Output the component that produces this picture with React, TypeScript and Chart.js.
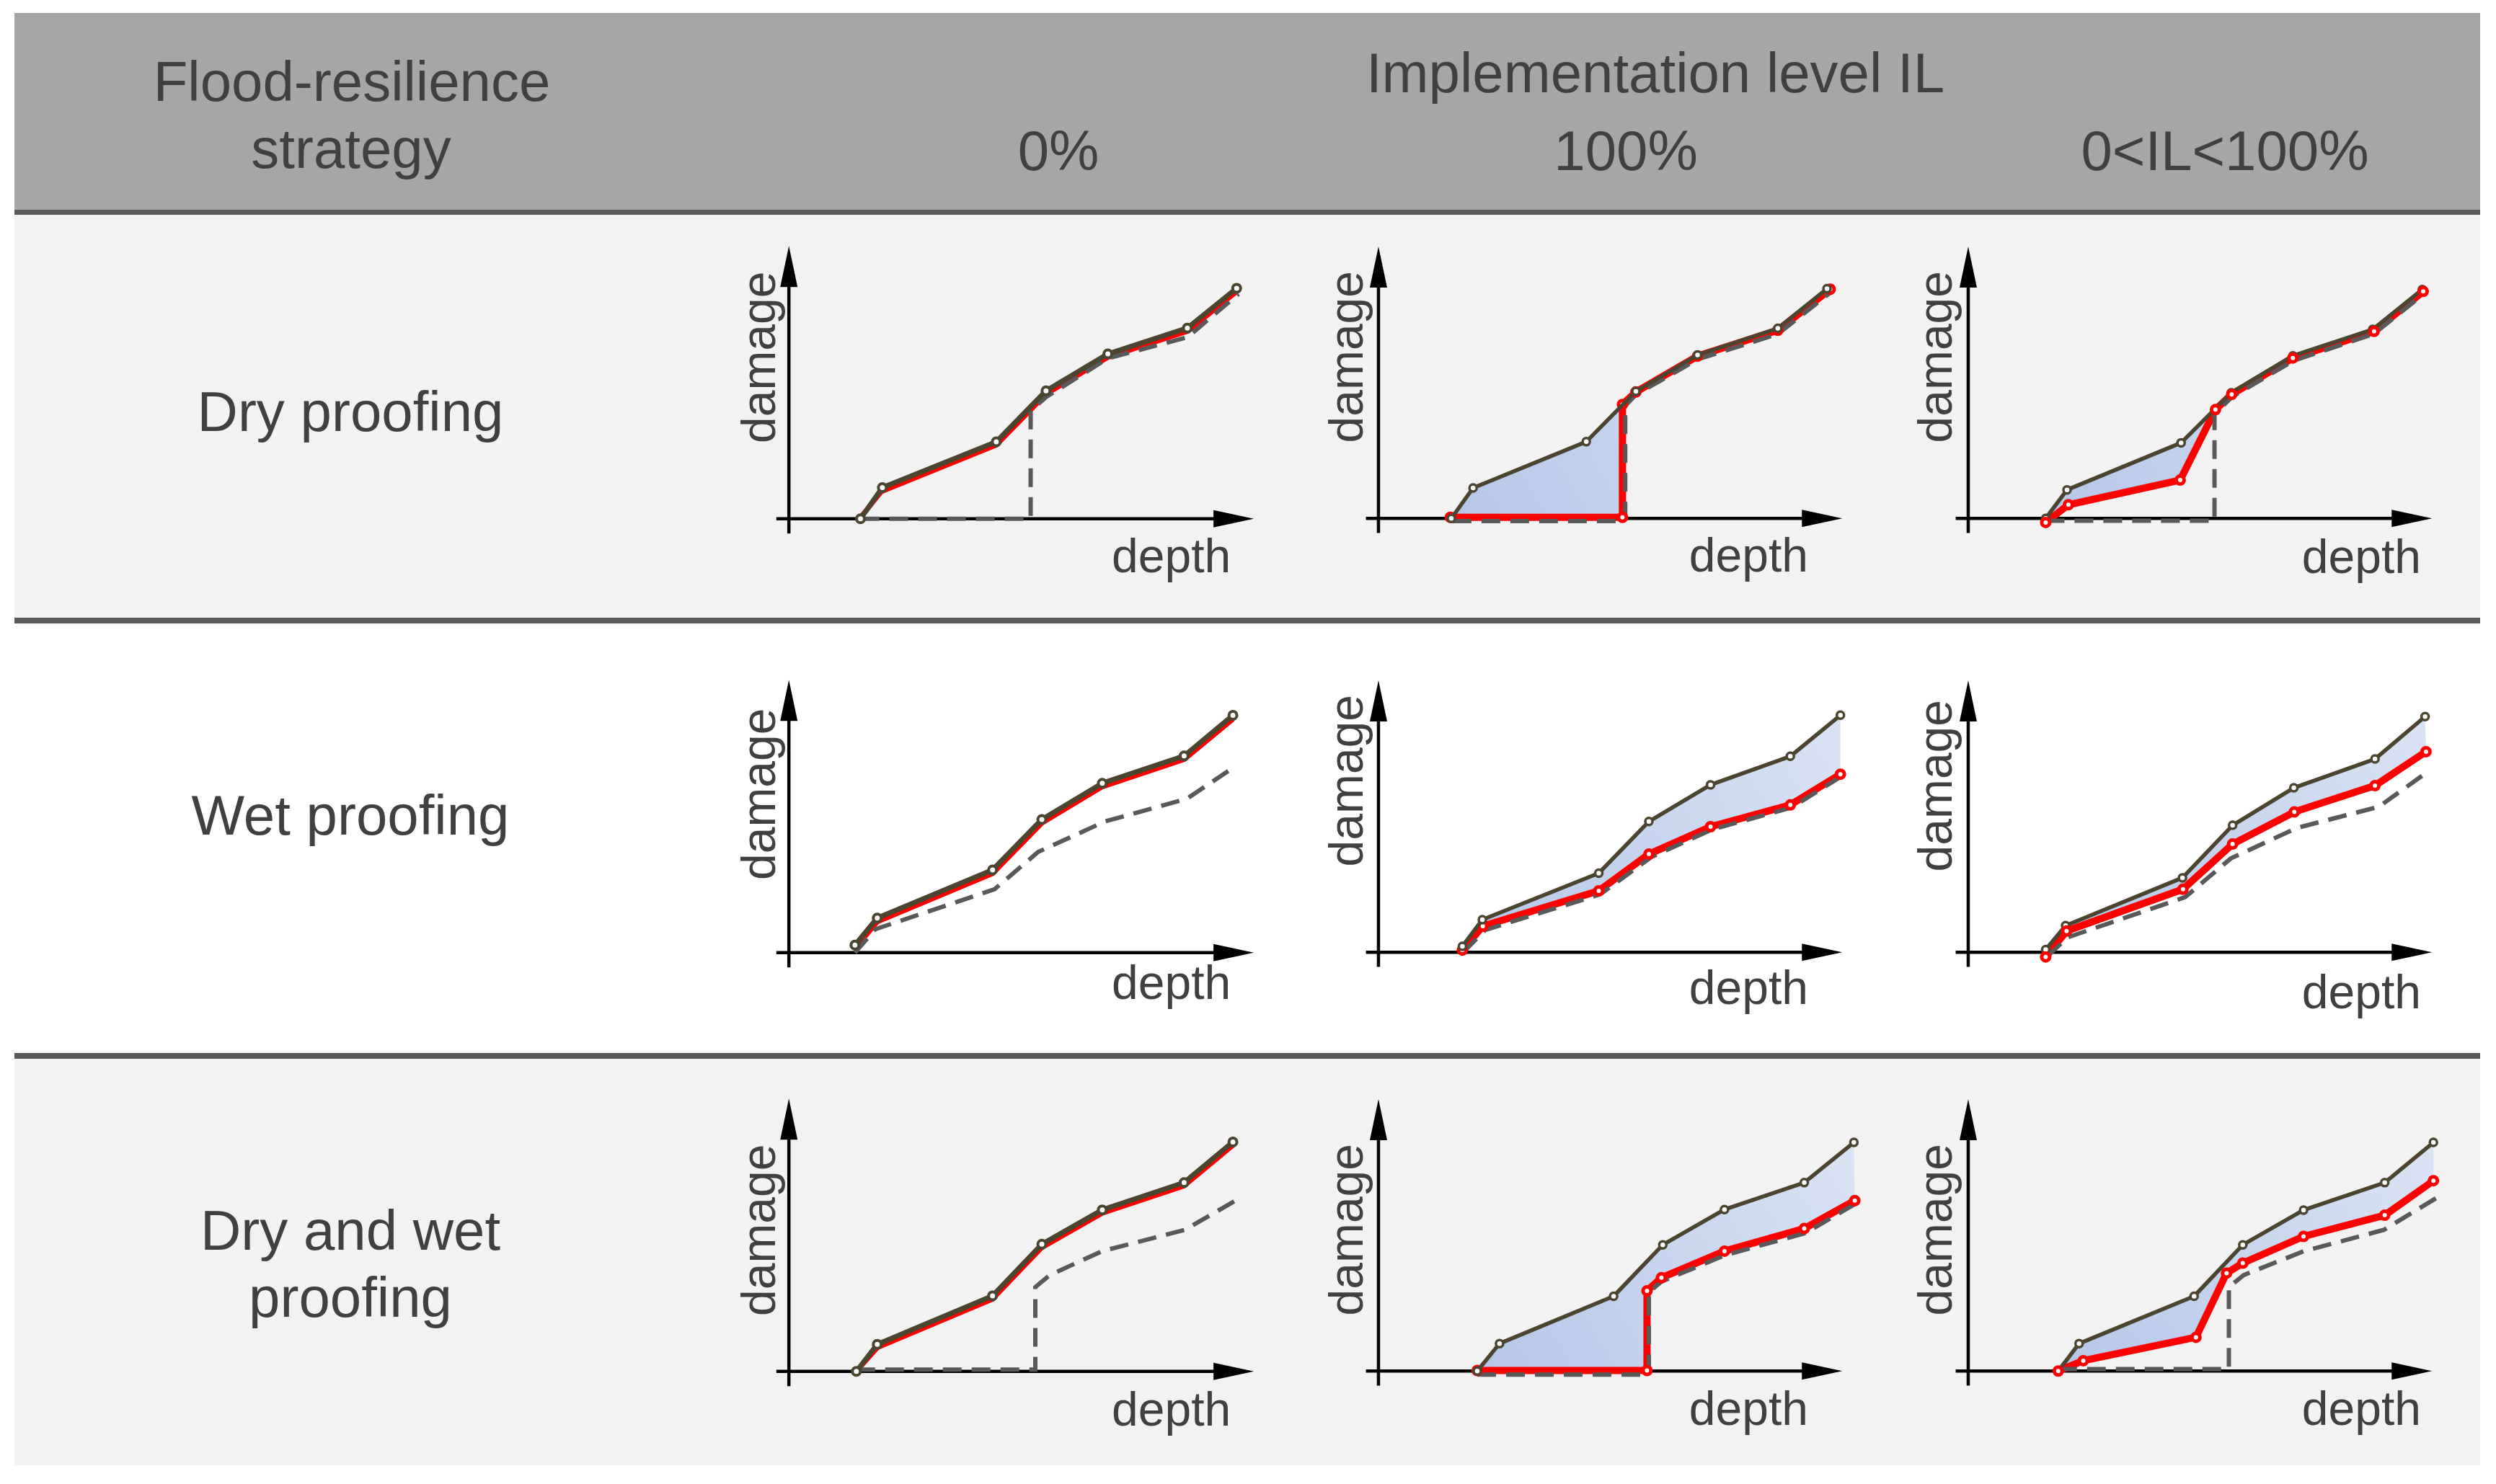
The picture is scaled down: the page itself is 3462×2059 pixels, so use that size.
import React, { useEffect, useRef } from 'react';
import { Chart, registerables } from 'chart.js';

Chart.register(...registerables);

type P = [number, number];

// ---------- DATA (depth, damage); axis arrow tips at 10 ----------
// Row 1: Dry proofing
const dry0Orig: P[] = [[1.54, 0], [2.01, 1.14], [4.46, 2.82], [5.53, 4.69], [6.86, 6.04], [8.57, 6.99], [9.63, 8.45]];
const dry0Full: P[] = [[1.54, 0], [5.2, 0], [5.2, 3.96], [5.53, 4.46], [6.86, 5.88], [8.57, 6.65], [9.67, 8.24]];
const dry0Result: P[] = [[1.52, 0], [1.99, 1.0], [4.46, 2.7], [5.53, 4.57], [6.86, 5.92], [8.57, 6.87], [9.63, 8.33]];

const dry100Orig: P[] = [[1.57, 0], [2.04, 1.12], [4.48, 2.82], [5.55, 4.67], [6.88, 6.01], [8.61, 6.99], [9.67, 8.45]];
const dry100Full: P[] = [[1.6, -0.1], [5.32, -0.1], [5.32, 4.14], [5.55, 4.55], [6.88, 5.85], [8.61, 6.78], [9.74, 8.3]];
const dry100Result: P[] = [[1.55, 0.04], [5.26, 0.04], [5.26, 4.19], [5.55, 4.65], [6.88, 5.97], [8.61, 6.92], [9.74, 8.43]];

const dryPartOrig: P[] = [[1.67, 0], [2.13, 1.05], [4.59, 2.78], [5.67, 4.62], [7.0, 5.98], [8.72, 6.95], [9.79, 8.42]];
const dryPartFull: P[] = [[1.67, -0.09], [5.31, -0.09], [5.31, 3.83], [5.68, 4.46], [7.0, 5.79], [8.75, 6.79], [9.81, 8.24]];
const dryPartResult: P[] = [[1.67, -0.15], [2.16, 0.5], [4.57, 1.41], [5.33, 4.0], [5.68, 4.56], [7.0, 5.9], [8.75, 6.88], [9.81, 8.35]];

// Row 2: Wet proofing
const wet0Orig: P[] = [[1.42, 0.28], [1.9, 1.27], [4.38, 3.03], [5.44, 4.88], [6.74, 6.21], [8.5, 7.21], [9.55, 8.7]];
const wet0Full: P[] = [[1.42, 0], [1.86, 0.86], [4.42, 2.32], [5.36, 3.69], [6.8, 4.81], [8.56, 5.64], [9.55, 6.77]];
const wet0Result: P[] = [[1.42, 0.15], [1.9, 1.13], [4.38, 2.9], [5.44, 4.75], [6.74, 6.08], [8.5, 7.08], [9.55, 8.56]];

const wet100Orig: P[] = [[1.81, 0.22], [2.24, 1.2], [4.75, 2.91], [5.83, 4.81], [7.16, 6.16], [8.88, 7.21], [9.96, 8.72]];
const wet100Full: P[] = [[1.83, 0], [2.3, 0.82], [4.78, 2.13], [5.88, 3.5], [7.2, 4.52], [8.9, 5.32], [9.98, 6.47]];
const wet100Result: P[] = [[1.81, 0.08], [2.25, 0.96], [4.75, 2.26], [5.83, 3.61], [7.16, 4.62], [8.88, 5.42], [9.96, 6.55]];

const wetPartOrig: P[] = [[1.67, 0.1], [2.1, 0.98], [4.62, 2.74], [5.7, 4.67], [7.02, 6.05], [8.77, 7.11], [9.85, 8.67]];
const wetPartFull: P[] = [[1.7, -0.15], [2.15, 0.55], [4.68, 2.03], [5.66, 3.45], [7.08, 4.57], [8.85, 5.35], [9.85, 6.57]];
const wetPartResult: P[] = [[1.67, -0.17], [2.12, 0.78], [4.63, 2.32], [5.7, 3.98], [7.03, 5.16], [8.77, 6.13], [9.87, 7.38]];

// Row 3: Dry and wet proofing
const both0Orig: P[] = [[1.45, 0], [1.9, 0.99], [4.38, 2.77], [5.44, 4.66], [6.74, 5.92], [8.5, 6.92], [9.55, 8.41]];
const both0Full: P[] = [[1.45, 0.07], [5.3, 0.07], [5.3, 3.09], [5.61, 3.53], [6.74, 4.41], [8.52, 5.19], [9.71, 6.36]];
const both0Result: P[] = [[1.45, 0], [1.9, 0.87], [4.38, 2.65], [5.44, 4.54], [6.74, 5.8], [8.5, 6.8], [9.55, 8.29]];

const both100Orig: P[] = [[2.13, 0], [2.61, 1.01], [5.07, 2.75], [6.13, 4.64], [7.46, 5.94], [9.18, 6.93], [10.25, 8.41]];
const both100Full: P[] = [[2.13, -0.13], [5.83, -0.13], [5.83, 2.9], [6.1, 3.29], [7.47, 4.26], [9.2, 5.07], [10.27, 6.14]];
const both100Result: P[] = [[2.13, 0.02], [5.79, 0.02], [5.79, 2.95], [6.1, 3.43], [7.46, 4.41], [9.18, 5.24], [10.27, 6.27]];

const bothPartOrig: P[] = [[1.94, 0], [2.39, 1.01], [4.87, 2.75], [5.92, 4.64], [7.23, 5.92], [8.98, 6.93], [10.03, 8.41]];
const bothPartFull: P[] = [[1.94, 0.07], [5.62, 0.07], [5.62, 3.09], [5.94, 3.53], [7.24, 4.41], [8.96, 5.19], [10.09, 6.36]];
const bothPartResult: P[] = [[1.94, 0], [2.48, 0.38], [4.91, 1.24], [5.57, 3.6], [5.92, 3.97], [7.23, 4.95], [8.98, 5.73], [10.03, 7.0]];

// Text
const strategyLabels: string[][] = [['Dry proofing'], ['Wet proofing'], ['Dry and wet', 'proofing']];
const levelLabels: string[] = ['0%', '100%', '0<IL<100%'];
const headerLeft: string[] = ['Flood-resilience', 'strategy'];
const headerTop = 'Implementation level IL';
const yAxisLabel = 'damage';
const xAxisLabel = 'depth';

// ---------- LAYOUT / STYLE ----------
const FONT = '"Liberation Sans", Arial, Helvetica, sans-serif';
const TXT = '#404040';
const OLIVE = '#4b4530';
const RED = '#ff0000';
const DASH = '#595959';
const AXIS_TIP = 10;
const PXX = 66; // px per depth unit
const PXY = 39.2; // px per damage unit
const ORIGIN_X = [1086.6, 1904, 2722];
const AXIS_Y = [725, 1326.6, 1908];
const CAN_L = 100, CAN_R = 730, CAN_T = 430, CAN_B = 125;
const DAMAGE_X = [-19, -22, -23];
const DAMAGE_DY = [[-224, -224, -224], [-220, -238, -231], [-196, -196, -196]];
const DEPTH_RIGHT = [613, 596, 628];
const DEPTH_BASE = [[74, 74, 76], [64, 72, 78], [75, 75, 75]];
const ROW_LABEL_BASE = [[598], [1158], [1734, 1827]];

const grid: { orig: P[]; full: P[]; result: P[] }[][] = [
  [
    { orig: dry0Orig, full: dry0Full, result: dry0Result },
    { orig: dry100Orig, full: dry100Full, result: dry100Result },
    { orig: dryPartOrig, full: dryPartFull, result: dryPartResult },
  ],
  [
    { orig: wet0Orig, full: wet0Full, result: wet0Result },
    { orig: wet100Orig, full: wet100Full, result: wet100Result },
    { orig: wetPartOrig, full: wetPartFull, result: wetPartResult },
  ],
  [
    { orig: both0Orig, full: both0Full, result: both0Result },
    { orig: both100Orig, full: both100Full, result: both100Result },
    { orig: bothPartOrig, full: bothPartFull, result: bothPartResult },
  ],
];

const toXY = (a: P[]) => a.map(([x, y]) => ({ x, y }));

const arrowAxes = {
  id: 'arrowAxes',
  beforeDatasetsDraw(chart: any) {
    const { ctx, scales } = chart;
    const xs = scales.x, ys = scales.y;
    const x0 = xs.getPixelForValue(0), y0 = ys.getPixelForValue(0);
    const xTip = xs.getPixelForValue(AXIS_TIP), yTip = ys.getPixelForValue(AXIS_TIP);
    ctx.save();
    ctx.strokeStyle = '#000';
    ctx.lineWidth = 4.5;
    ctx.beginPath();
    ctx.moveTo(xs.getPixelForValue(-0.27), y0);
    ctx.lineTo(xTip - 50, y0);
    ctx.moveTo(x0, ys.getPixelForValue(-0.54));
    ctx.lineTo(x0, yTip + 50);
    ctx.stroke();
    ctx.fillStyle = '#000';
    ctx.beginPath();
    ctx.moveTo(xTip, y0);
    ctx.lineTo(xTip - 56, y0 - 12);
    ctx.lineTo(xTip - 56, y0 + 12);
    ctx.closePath();
    ctx.fill();
    ctx.beginPath();
    ctx.moveTo(x0, yTip);
    ctx.lineTo(x0 - 12, yTip + 57);
    ctx.lineTo(x0 + 12, yTip + 57);
    ctx.closePath();
    ctx.fill();
    ctx.restore();
  },
  afterDatasetsDraw(chart: any, _args: any, opts: any) {
    const { ctx, scales } = chart;
    const x0 = scales.x.getPixelForValue(0), y0 = scales.y.getPixelForValue(0);
    ctx.save();
    ctx.fillStyle = TXT;
    ctx.font = `66px ${FONT}`;
    ctx.textBaseline = 'alphabetic';
    ctx.textAlign = 'right';
    ctx.fillText(xAxisLabel, x0 + opts.depthRight, y0 + opts.depthBase);
    ctx.translate(x0 + opts.damageX, y0 + opts.damageDy);
    ctx.rotate(-Math.PI / 2);
    ctx.textAlign = 'center';
    ctx.fillText(yAxisLabel, 0, 0);
    ctx.restore();
  },
};

// gradient for the shaded area; canvas pixel mapping matches the fixed scale ranges below
function gradientFor(pts: P[]) {
  return (context: any) => {
    const ctx = context.chart.ctx as CanvasRenderingContext2D;
    const xsv = pts.map((p) => p[0]);
    const ysv = pts.map((p) => p[1]);
    const gx0 = CAN_L + Math.min(...xsv) * PXX;
    const gx1 = CAN_L + Math.max(...xsv) * PXX;
    const gy0 = CAN_T - Math.min(...ysv) * PXY;
    const gy1 = CAN_T - Math.max(...ysv) * PXY;
    if (![gx0, gx1, gy0, gy1].every(Number.isFinite)) return '#c5d3ee';
    const g = ctx.createLinearGradient(gx0, gy0, gx1, gy1);
    g.addColorStop(0, '#b4c6e8');
    g.addColorStop(1, '#dbe4f3');
    return g;
  };
}

function Cell({ row, col }: { row: number; col: number }) {
  const ref = useRef<HTMLCanvasElement>(null);
  const left = ORIGIN_X[col] - CAN_L;
  const top = AXIS_Y[row] - CAN_T;
  const w = CAN_L + CAN_R;
  const h = CAN_T + CAN_B;
  useEffect(() => {
    const { orig, full, result } = grid[row][col];
    const datasets: any[] = [
      {
        label: 'result markers',
        data: toXY(result),
        showLine: false,
        pointRadius: col === 0 ? 0 : 5.5,
        pointBorderWidth: 5,
        pointBorderColor: RED,
        pointBackgroundColor: '#ffffff',
        order: col === 2 ? 0 : 2,
      },
      {
        label: 'IL 0%',
        data: toXY(orig),
        borderColor: OLIVE,
        borderWidth: col === 0 ? 7 : 5.5,
        borderJoinStyle: 'round',
        pointRadius: col === 0 ? 5.5 : 5,
        pointBorderWidth: col === 0 ? 4 : 3.5,
        pointBorderColor: OLIVE,
        pointBackgroundColor: '#ffffff',
        order: 1,
      },
      {
        label: 'IL 100%',
        data: toXY(full),
        borderColor: DASH,
        borderWidth: 6,
        borderDash: [26, 14],
        pointRadius: 0,
        order: 3,
      },
      {
        label: 'result',
        data: toXY(result),
        borderColor: RED,
        borderWidth: col === 0 ? 7 : 10,
        borderJoinStyle: 'round',
        pointRadius: 0,
        order: 4,
      },
    ];
    if (col > 0) {
      const poly = [...orig, ...result.slice().reverse()];
      datasets.push({
        label: 'avoided damage',
        data: toXY(poly),
        fill: 'shape',
        backgroundColor: gradientFor(poly),
        borderColor: 'rgba(0,0,0,0)',
        borderWidth: 1,
        pointRadius: 0,
        order: 5,
      });
    }
    const chart = new Chart(ref.current as HTMLCanvasElement, {
      type: 'line',
      data: { datasets },
      options: {
        animation: false,
        responsive: false,
        events: [],
        layout: { padding: 0 },
        scales: {
          x: { type: 'linear', min: -CAN_L / PXX, max: CAN_R / PXX, display: false },
          y: { type: 'linear', min: -CAN_B / PXY, max: CAN_T / PXY, display: false },
        },
        plugins: {
          legend: { display: false },
          tooltip: { enabled: false },
          arrowAxes: {
            damageX: DAMAGE_X[col],
            damageDy: DAMAGE_DY[row][col],
            depthRight: DEPTH_RIGHT[col],
            depthBase: DEPTH_BASE[row][col],
          },
        } as any,
      },
      plugins: [arrowAxes],
    });
    return () => chart.destroy();
  }, [row, col]);
  return (
    <canvas
      ref={ref}
      width={w}
      height={h}
      style={{ position: 'absolute', left, top, width: w, height: h }}
    />
  );
}

function Txt({ text, cx, base, size = 78 }: { text: string; cx: number; base: number; size?: number }) {
  return (
    <div
      style={{
        position: 'absolute',
        left: cx - 800,
        width: 1600,
        top: base - 0.8465 * size,
        fontSize: size,
        lineHeight: `${size}px`,
        textAlign: 'center',
        color: TXT,
        whiteSpace: 'nowrap',
        fontFamily: FONT,
      }}
    >
      {text}
    </div>
  );
}

const band = (top: number, height: number, bg: string) => (
  <div style={{ position: 'absolute', left: 20, top, width: 3420, height, background: bg }} />
);

export default function App() {
  const levelCx = [1468, 2255, 3086];
  return (
    <div
      style={{
        position: 'absolute',
        left: 0,
        top: 0,
        width: 3462,
        height: 2059,
        background: '#ffffff',
        overflow: 'hidden',
        fontFamily: FONT,
      }}
    >
      {band(18, 273, '#a6a6a6')}
      {band(291, 7, '#595959')}
      {band(298, 559, '#f2f2f2')}
      {band(857, 8, '#595959')}
      {band(865, 596, '#ffffff')}
      {band(1461, 8, '#595959')}
      {band(1469, 564, '#f2f2f2')}

      <Txt text={headerLeft[0]} cx={488} base={140} />
      <Txt text={headerLeft[1]} cx={487} base={233} />
      <Txt text={headerTop} cx={2296} base={128.5} />
      {levelLabels.map((t, i) => (
        <Txt key={t} text={t} cx={levelCx[i]} base={236} />
      ))}
      {strategyLabels.map((lines, r) =>
        lines.map((t, k) => <Txt key={`${r}-${k}`} text={t} cx={486} base={ROW_LABEL_BASE[r][k]} />)
      )}

      {[0, 1, 2].map((r) => [0, 1, 2].map((c) => <Cell key={`${r}${c}`} row={r} col={c} />))}
    </div>
  );
}
